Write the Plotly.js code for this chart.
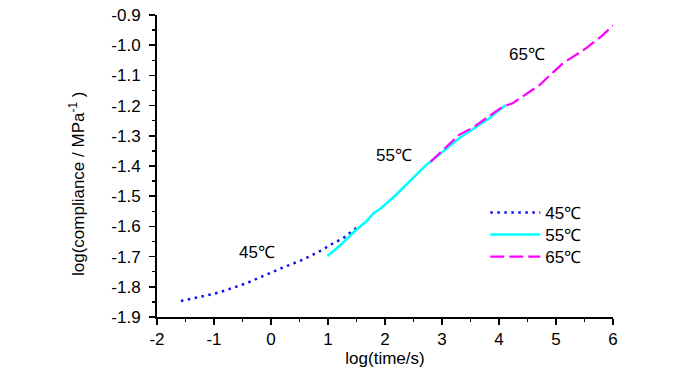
<!DOCTYPE html>
<html>
<head>
<meta charset="utf-8">
<script src="https://cdn.plot.ly/plotly-3.0.1.min.js"></script>
<style>
html,body{margin:0;padding:0;background:#fff;}
#chart{width:700px;height:373px;}
</style>
</head>
<body>
<div id="chart"></div>
<script>
// 45℃ series (log time, log compliance)
var x45 = [-1.58, -1.4, -1.2, -1.0, -0.8, -0.6, -0.4, -0.2, 0.0, 0.2, 0.4, 0.55, 0.7, 0.9, 1.05, 1.26, 1.46, 1.55];
var y45 = [-1.847, -1.840, -1.833, -1.823, -1.812, -1.800, -1.786, -1.769, -1.752, -1.737, -1.722, -1.711, -1.697, -1.678, -1.660, -1.640, -1.610, -1.600];
// 55℃ series
var x55 = [0.99, 1.2, 1.49, 1.67, 1.8, 1.93, 2.19, 2.4, 2.72, 2.9, 3.1, 3.30, 3.5, 3.7, 3.83, 4.0, 4.12];
var y55 = [-1.698, -1.665, -1.612, -1.584, -1.556, -1.540, -1.496, -1.458, -1.397, -1.370, -1.338, -1.308, -1.283, -1.258, -1.242, -1.215, -1.198];
// 65℃ series
var x65 = [2.8, 2.95, 3.1, 3.30, 3.54, 3.8, 4.06, 4.24, 4.59, 4.71, 5.12, 5.53, 5.8, 6.0];
var y65 = [-1.386, -1.360, -1.333, -1.297, -1.273, -1.238, -1.204, -1.192, -1.148, -1.132, -1.060, -1.010, -0.970, -0.935];

var seriesNames = ['45℃', '55℃', '65℃'];
var xTickVals = [-2, -1, 0, 1, 2, 3, 4, 5, 6];
var xTickText = ['-2', '-1', '0', '1', '2', '3', '4', '5', '6'];
var yTickVals = [-1.9, -1.8, -1.7, -1.6, -1.5, -1.4, -1.3, -1.2, -1.1, -1.0, -0.9];
var yTickText = ['-1.9', '-1.8', '-1.7', '-1.6', '-1.5', '-1.4', '-1.3', '-1.2', '-1.1', '-1.0', '-0.9'];
// in-plot labels
var labelText = ['45℃', '55℃', '65℃'];
var labelX = [-0.24, 2.15, 4.49];
var labelY = [-1.685, -1.364, -1.032];
var xTitle = 'log(time/s)';
var yTitle = 'log(compliance / MPa<sup>-1</sup> )';

var FONT = '"Liberation Sans", Arial, sans-serif';

var traces = [
  {x: x45, y: y45, name: seriesNames[0], mode: 'lines', type: 'scatter', legend: 'legend',
   line: {color: '#1010f0', width: 2.5, dash: '2.5px,4.5px'}},
  {x: x55, y: y55, name: seriesNames[1], mode: 'lines', type: 'scatter', legend: 'legend2',
   line: {color: '#00ffff', width: 2.5}},
  {x: x65, y: y65, name: seriesNames[2], mode: 'lines', type: 'scatter', legend: 'legend3',
   line: {color: '#ff00ff', width: 2.2, dash: '14px,5px'}}
];

var annotations = labelText.map(function(t, i){
  return {x: labelX[i], y: labelY[i], xref: 'x', yref: 'y', text: t, showarrow: false,
          font: {family: FONT, size: 17, color: '#000'}};
});
annotations.push({x: -0.1754, y: 0.4404, xref: 'paper', yref: 'paper', text: yTitle, textangle: -90,
  showarrow: false, xanchor: 'center', yanchor: 'middle', font: {family: FONT, size: 17, color: '#000'}});

function py(pix){ return 1 - (pix - 15) / 302; }
function leg(rowPix){
  return {x: 0.72, y: py(rowPix), xanchor: 'left', yanchor: 'middle', bgcolor: 'rgba(0,0,0,0)',
          font: {family: FONT, size: 17, color: '#000'}, itemwidth: 50};
}

var layout = {
  width: 700, height: 373,
  margin: {l: 157, r: 87, t: 15, b: 56, pad: 0},
  paper_bgcolor: '#fff', plot_bgcolor: '#fff',
  font: {family: FONT, size: 17, color: '#000'},
  showlegend: true,
  legend: leg(213), legend2: leg(235), legend3: leg(257),
  xaxis: {
    range: [-2, 6], tickvals: xTickVals, ticktext: xTickText, ticks: 'outside', ticklen: 6, tickwidth: 1.5, tickcolor: '#000',
    showline: true, linecolor: '#000', linewidth: 2, showgrid: false, zeroline: false,
    minor: {dtick: 0.5, ticks: 'outside', ticklen: 3, tickwidth: 1.5, tickcolor: '#000', showgrid: false},
    tickfont: {family: FONT, size: 17, color: '#000'},
    title: {text: xTitle, font: {family: FONT, size: 17, color: '#000'}, standoff: 4}
  },
  yaxis: {
    range: [-1.9, -0.9], tickvals: yTickVals, ticktext: yTickText, ticks: 'outside', ticklen: 6, tickwidth: 1.5, tickcolor: '#000',
    showline: true, linecolor: '#000', linewidth: 2, showgrid: false, zeroline: false,
    minor: {dtick: 0.05, ticks: 'outside', ticklen: 3, tickwidth: 1.5, tickcolor: '#000', showgrid: false},
    tickfont: {family: FONT, size: 17, color: '#000'},
    ticklabelstandoff: 5
  },
  annotations: annotations
};

Plotly.newPlot('chart', traces, layout, {displayModeBar: false, staticPlot: true});
</script>
</body>
</html>
